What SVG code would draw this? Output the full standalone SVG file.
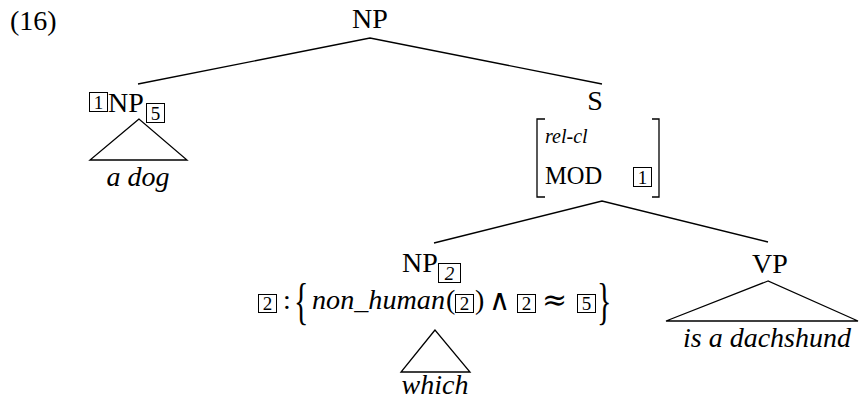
<svg xmlns="http://www.w3.org/2000/svg" width="859" height="402" viewBox="0 0 859 402" font-family="'Liberation Serif', 'Times New Roman', serif">
<style>
text{font-family:"Liberation Serif",serif;fill:#000}
.lab{font-family:"Liberation Serif",serif;font-size:28px}
.it{font-family:"Liberation Serif",serif;font-style:italic}
.num{font-family:"Liberation Serif",serif;font-size:19px;text-anchor:middle}
.sym{font-family:"DejaVu Serif",serif}
.box{fill:none;stroke:#000;stroke-width:1}
.edge{fill:none;stroke:#000;stroke-width:1.3}
.mid{text-anchor:middle}
</style>
<rect width="859" height="402" fill="#fff"/>
<text class="lab" x="10" y="30">(16)</text>
<g id="connectors">
<path class="edge" d="M138,84 L370,38 L602,84"/>
<path class="edge" d="M434,243 L602,201 L768,242"/>
</g>
<g id="np-top"><text class="lab mid" x="370" y="28">NP</text></g>
<g id="np-left">
<rect class="box" x="89.5" y="92.5" width="18" height="19"/>
<text class="num" x="98.5" y="109">1</text>
<text class="lab" x="108" y="112">NP</text>
<rect class="box" x="146.5" y="103.5" width="18" height="19"/>
<text class="num" x="155.5" y="120">5</text>
<path class="edge" d="M139,119 L90,160 L187,160 Z"/>
<text class="lab it mid" x="138" y="186">a dog</text>
</g>
<g id="s">
<text class="lab mid" x="595" y="110">S</text>
<path class="edge" d="M545,119 H537 V197 H545"/>
<path class="edge" d="M652,119 H659 V197 H652"/>
<text class="it" x="545" y="143" font-size="20">rel-cl</text>
<text x="545" y="184" font-size="24.5">MOD</text>
<rect class="box" x="633.5" y="167.5" width="18" height="19"/>
<text class="num" x="642.5" y="184">1</text>
</g>
<g id="np-which">
<text class="lab" x="402" y="272">NP</text>
<rect class="box" x="438.5" y="263.5" width="22" height="19"/>
<text class="num it" x="449.5" y="280">2</text>
<rect class="box" x="258.5" y="294.5" width="18" height="18"/>
<text class="num" x="267.5" y="310">2</text>
<text class="lab" x="283" y="309">:</text>
<text x="0" y="0" font-size="50" transform="translate(294,318) scale(0.6,1)">{</text>
<text class="lab it" x="312" y="309" textLength="133" lengthAdjust="spacingAndGlyphs">non_human</text>
<text class="lab" x="446" y="309">(</text>
<rect class="box" x="455.5" y="294.5" width="18" height="18"/>
<text class="num" x="464.5" y="310">2</text>
<text class="lab" x="475" y="309">)</text>
<text class="sym" x="489" y="310" font-size="29">∧</text>
<rect class="box" x="517.5" y="294.5" width="18" height="18"/>
<text class="num" x="526.5" y="310">2</text>
<text class="sym" x="542" y="310" font-size="30">≈</text>
<rect class="box" x="577.5" y="294.5" width="18" height="18"/>
<text class="num" x="586.5" y="310">5</text>
<text x="0" y="0" font-size="50" transform="translate(597,318) scale(0.6,1)">}</text>
<path class="edge" d="M435,330 L401,372 L470,372 Z"/>
<text class="lab it mid" x="435" y="394">which</text>
</g>
<g id="vp">
<text class="lab mid" x="770" y="273">VP</text>
<path class="edge" d="M768,281 L666,321 L858,321 Z"/>
<text class="lab it mid" x="767" y="347">is a dachshund</text>
</g>
</svg>
